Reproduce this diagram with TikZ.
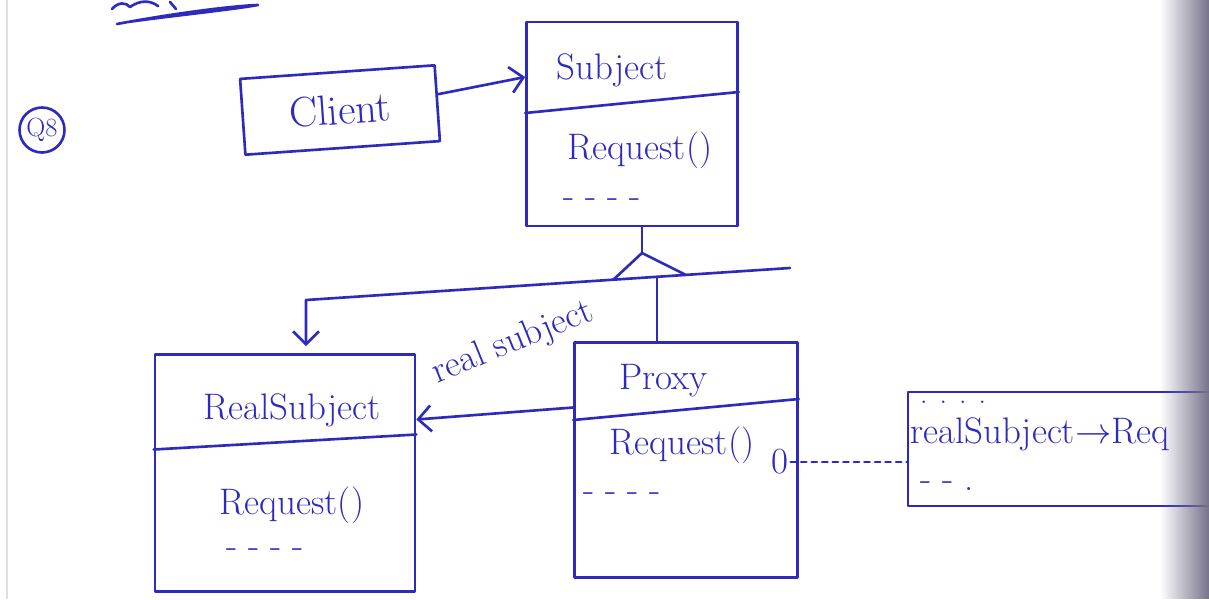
\documentclass[tikz,border=0pt]{standalone}
\usetikzlibrary{positioning,arrows.meta,fadings}

\definecolor{ink}{RGB}{46,42,188}
\definecolor{pageedge}{RGB}{118,114,138}

\tikzset{
  inkline/.style={draw=ink, line width=1.5pt, line cap=round, line join=round},
  classbox/.style={inkline, rectangle, inner sep=0pt},
  hand/.style={text=ink, inner sep=1pt, font=\fontsize{21}{25}\selectfont},
  handsmall/.style={hand, font=\fontsize{17}{20}\selectfont},
  barb/.style={inkline, -{Straight Barb[length=2.6mm, width=5.2mm]}},
}

\begin{document}
\begin{tikzpicture}[x=0.02cm, y=-0.02cm]
  \clip (0,0) rectangle (1209,599);
  \fill[white] (0,0) rectangle (1209,599);
  \draw[black!12, line width=0.6pt] (7,0) -- (7,599);

  % heading scribble and question number
  \draw[inkline] (117,24) .. controls (170,14) and (230,6) .. (258,5)
    .. controls (230,10) and (170,16) .. (128,22);
  \draw[inkline] (112,9) .. controls (118,2) and (126,2) .. (130,7)
    .. controls (140,0) and (150,0) .. (158,6) (170,2) -- (176,9);
  \node[hand, draw=ink, line width=1.5pt, circle, inner sep=0pt, minimum size=0.9cm,
    font=\fontsize{15}{18}\selectfont] (qno) at (42,130) {Q8};

  % classes
  \node[classbox, hand, font=\fontsize{24}{28}\selectfont, minimum width=3.9cm,
    minimum height=1.52cm, rotate=4] (client) at (340,110) {Client};

  \node[classbox, minimum width=4.22cm, minimum height=4.08cm] (subject) at (632,124) {};
  \node[hand] (subjectname) at (612,70) {Subject};
  \node[hand] (subjectop) at (640,150) {Request()};
  \node[hand] (subjectdots) at (602,203) {- - - -};
  \draw[inkline] ([yshift=0.22cm]subject.west) -- ([yshift=0.64cm]subject.east);

  \node[classbox, minimum width=5.2cm, minimum height=4.74cm] (realsubject) at (285,473) {};
  \node[hand] (realname) at (292,410) {RealSubject};
  \node[hand] (realop) at (292,505) {Request()};
  \node[hand] (realdots) at (265,553) {- - - -};
  \draw[inkline] ([yshift=0.47cm]realsubject.west) -- ([yshift=0.77cm]realsubject.east);

  \node[classbox, minimum width=4.46cm, minimum height=4.7cm] (proxy) at (686,460) {};
  \node[hand] (proxyname) at (663,381) {Proxy};
  \node[hand] (proxyop) at (682,445) {Request()};
  \node[hand] (proxydots) at (622,497) {- - - -};
  \draw[inkline] ([yshift=0.8cm]proxy.west) -- ([yshift=1.22cm]proxy.east);
  \node[hand] (proxydot) at (780,462) {0};

  \node[classbox, minimum width=6.64cm, minimum height=2.28cm] (note) at (1074,449) {};
  \node[handsmall, anchor=west] (notedots) at (918,402) {. . . .};
  \node[hand, anchor=west] (notecall) at (908,434) {realSubject$\rightarrow$Req};
  \node[hand, anchor=west] (notetail) at (918,486) {- - .};

  % connectors
  \draw[barb] ([yshift=0.18cm]client.east) -- ([yshift=0.94cm]subject.west);

  \coordinate (apex) at (642,253);
  \coordinate (barR) at (790,268);
  \coordinate (bend) at (306,300);
  \coordinate (joint) at (657,277);
  \draw[inkline] (apex |- subject.south) -- (apex);
  \draw[inkline] (613,280) -- (apex) -- (686,275);
  \draw[barb, shorten >=0.14cm] (barR) -- (bend) -- (bend |- realsubject.north);
  \draw[inkline] (joint) -- (joint |- proxy.north);

  \draw[barb] ([yshift=1.05cm]proxy.west) -- ([yshift=1.07cm]realsubject.east);
  \node[hand, rotate=22] (rslabel) at (513,343) {real subject};

  \draw[inkline, dashed] (proxydot.east) -- (proxydot.east -| note.west);

  % page edge
  \fill[pageedge, path fading=west] (1160,0) rectangle (1209,599);
\end{tikzpicture}
\end{document}
